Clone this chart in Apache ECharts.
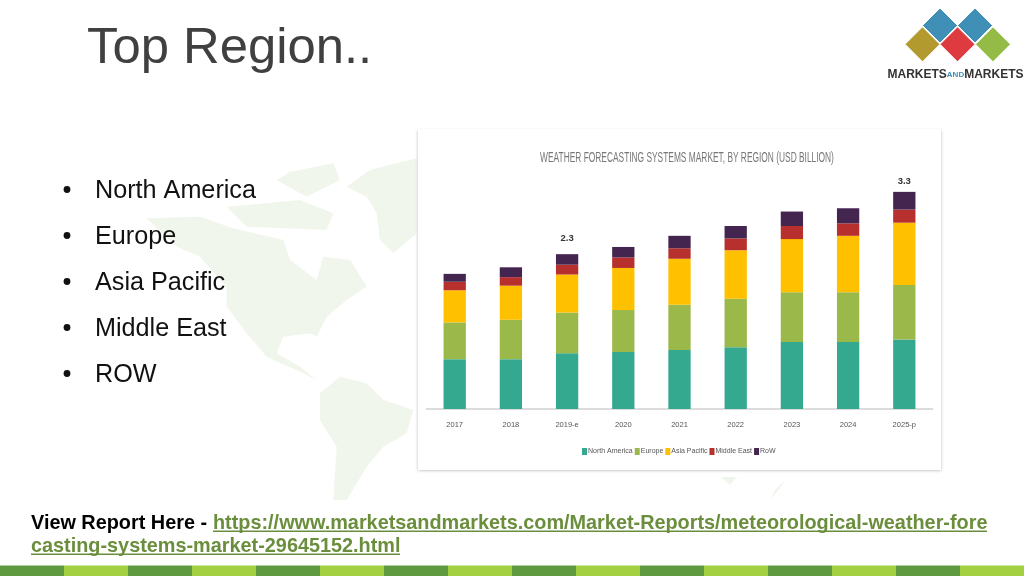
<!DOCTYPE html>
<html><head><meta charset="utf-8">
<style>html,body{margin:0;padding:0;background:#fff}#c{width:1024px;height:576px}</style>
<script src="https://cdn.jsdelivr.net/npm/echarts@6/dist/echarts.min.js"></script>
</head><body><div id="c"></div>
<script>
const categories = ['2017','2018','2019-e','2020','2021','2022','2023','2024','2025-p'];
const northAmerica = [0.76,0.76,0.85,0.87,0.90,0.94,1.02,1.02,1.06];
const europe       = [0.56,0.60,0.62,0.64,0.69,0.74,0.76,0.76,0.83];
const asiaPacific  = [0.49,0.52,0.58,0.64,0.70,0.74,0.81,0.86,0.95];
const middleEast   = [0.13,0.13,0.15,0.16,0.16,0.18,0.20,0.19,0.20];
const row          = [0.12,0.15,0.16,0.16,0.19,0.19,0.22,0.23,0.27];
const totalLabels  = ['','','2.3','','','','','','3.3'];
const bulletItems  = ['North America','Europe','Asia Pacific','Middle East','ROW'];
const seriesNames  = ['North America','Europe','Asia Pacific','Middle East','RoW'];

const FONT = '"Liberation Sans", Arial, sans-serif';
const g = [];
const MAP = '#f1f6ec';
const poly = (pts, fill, z) => g.push({type:'polygon', silent:true, z:z, shape:{points:pts.map(p=>[p[0]/3,p[1]/3+100])}, style:{fill}});
// faint world map
poly([[440,355],[600,350],[700,385],[850,420],[870,480],[950,540],[970,470],[1050,480],[1100,560],[1040,600],[980,650],[950,710],[930,700],[850,710],[830,760],[900,800],[950,840],[900,815],[800,770],[740,700],[680,620],[680,560],[600,470],[530,440]],MAP,-5);
poly([[960,880],[1020,830],[1100,850],[1150,900],[1240,930],[1220,1000],[1150,1040],[1100,1100],[1040,1200],[1000,1200],[1010,1040],[960,960]],MAP,-5);
poly([[1040,260],[1110,210],[1250,175],[1250,400],[1180,460],[1140,420],[1130,340],[1100,290]],MAP,-5);
poly([[870,215],[1000,190],[1020,240],[920,290],[830,240]],MAP,-5);
poly([[680,320],[900,300],[1000,340],[980,390],[740,380]],MAP,-5);
poly([[2163,1131],[2211,1131],[2190,1155]],MAP,-5);
poly([[2355,1140],[2340,1165],[2310,1200],[2325,1170]],MAP,-5);

// white chart panel
g.push({type:'rect', silent:true, z:-2, shape:{x:418,y:129,width:523,height:341},
  style:{fill:'#fff', shadowBlur:3, shadowColor:'rgba(0,0,0,0.28)', shadowOffsetY:0.5}});

const label = (x, baseline, size, text, weight, fill) => g.push({type:'text', silent:true, z:5,
  style:{x, y:baseline-size*0.86+2.5, text, font:(weight?weight+' ':'')+size+'px '+FONT, fill}});

// slide title, bullets
label(87,65,50.8,'Top Region..','','#404040');
bulletItems.forEach((t,i)=>{
  g.push({type:'circle', silent:true, z:5, shape:{cx:67,cy:189.5+46*i,r:3.4}, style:{fill:'#111'}});
  label(95,198+46*i,25.2,t,'','#111');
});

// chart title inside the panel, condensed horizontally like the reference
g.push({type:'text', silent:true, z:5, x:687, y:157.5, scaleX:0.54, scaleY:1,
  style:{x:0,y:0,text:'WEATHER FORECASTING SYSTEMS MARKET, BY REGION (USD BILLION)',font:'15.5px '+FONT,fill:'#777',align:'center',verticalAlign:'middle'}});

// footer
const LINK = '#6b8e3d';
label(31,528,19.85,'View Report Here - ','bold','#000');
label(213,528,19.85,'https://www.marketsandmarkets.com/Market-Reports/meteorological-weather-fore','bold',LINK);
label(31,551.5,19.85,'casting-systems-market-29645152.html','bold',LINK);
g.push({type:'rect', silent:true, z:5, shape:{x:213,y:530.5,width:774,height:1.6}, style:{fill:LINK}});
g.push({type:'rect', silent:true, z:5, shape:{x:31,y:553.5,width:369,height:1.6}, style:{fill:LINK}});

// bottom strip
for(let i=0;i<16;i++){
  g.push({type:'rect', silent:true, z:5, shape:{x:i*64,y:565.5,width:64,height:10.5}, style:{fill:i%2?'#a2d040':'#5f9a40'}});
}

// logo
const diamond=(cx,cy,fill)=>g.push({type:'polygon', silent:true, z:5, shape:{points:[[cx,cy-17.5],[cx+17.5,cy],[cx,cy+17.5],[cx-17.5,cy]]}, style:{fill,stroke:'#fff',lineWidth:1}});
diamond(940,25.5,'#3f8fb6'); diamond(975,25.5,'#3f8fb6');
diamond(922.5,44.3,'#b39a2f'); diamond(957.5,44.3,'#dd3b40'); diamond(993,44.3,'#93bb45');
g.push({type:'text', silent:true, z:6, style:{x:887.5,y:75,verticalAlign:'middle',
  text:'{a|MARKETS}{b|AND}{a|MARKETS}',
  rich:{a:{font:'bold 12px '+FONT,fill:'#333'},b:{font:'bold 8px '+FONT,fill:'#3f8fb6'}}}});

const colors = ['#35a98f','#9bb84b','#ffc000','#b8302e','#44254f'];
const values = [northAmerica,europe,asiaPacific,middleEast,row];
const series = seriesNames.map((name,i)=>({
  name, type:'bar', stack:'total', barWidth:22.3,
  itemStyle:{color:colors[i]},
  data: i<4 ? values[i] : values[i].map((v,j)=>({
    value:v,
    label:{show:totalLabels[j]!=='', formatter:totalLabels[j], position:'top',
      distance:j===2?11:5, color:'#333', fontFamily:FONT, fontWeight:'bold', fontSize:9.5}
  }))
}));

const chart = echarts.init(document.getElementById('c'),null,{renderer:'canvas'});
chart.setOption({
  animation:false,
  backgroundColor:'#fff',
  textStyle:{fontFamily:FONT},
  color:colors,
  grid:{left:426.6,width:505.8,top:179.4,height:229.6,containLabel:false},
  xAxis:{type:'category',data:categories,
    axisLine:{lineStyle:{color:'#dcdcdc',width:2}},axisTick:{show:false},
    axisLabel:{color:'#555',fontFamily:FONT,fontSize:7.5,margin:12}},
  yAxis:{type:'value',min:0,max:3.5,show:false,splitLine:{show:false}},
  legend:{left:577,top:443,itemWidth:5,itemHeight:7,itemGap:2,icon:'rect',
    textStyle:{color:'#555',fontFamily:FONT,fontSize:7,padding:[0,0,0,-4]},data:seriesNames},
  series,
  graphic:{elements:g}
});
</script></body></html>
